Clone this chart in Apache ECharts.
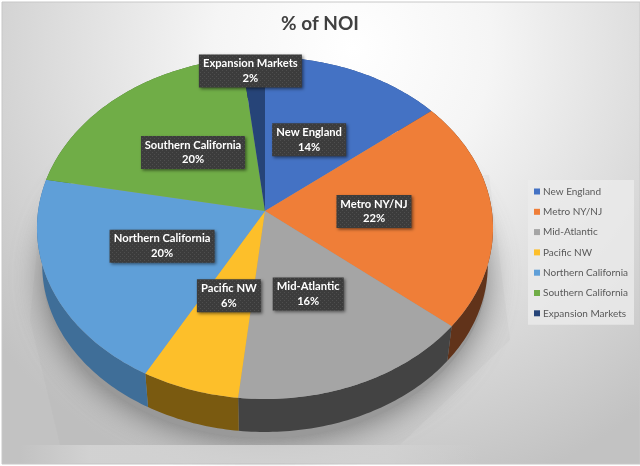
<!DOCTYPE html>
<html><head><meta charset="utf-8">
<style>html,body{margin:0;padding:0;background:#fff}#c{width:640px;height:466px}</style>
<script src="https://cdn.jsdelivr.net/npm/echarts@6/dist/echarts.min.js"></script>
</head><body><div id="c"></div>
<script>
const categories = ['New England','Metro NY/NJ','Mid-Atlantic','Pacific NW','Northern California','Southern California','Expansion Markets'];
const noiShare = [14.2,21.8,15.7,6.3,20,20.2,1.8];
const topColors = ['#4472C4','#EF7E38','#A5A5A5','#FDBF2A','#5F9FD8','#70AD47','#264478'];
const wallColors = ['#2c4a80','#61331A','#434343','#7A5A10','#3F6E98','#46702d','#18294a'];

const total = noiShare.reduce((a,b)=>a+b,0);
const FONT = 'Lato, "Open Sans", sans-serif';
// projected disc: a circle seen in perspective, back edge further away
const P = {cx:265, cy:211, A:169.3, B:226.9, k:0.0994, wallScale:0.977, wallCy:248.3};
const LABEL_NUDGE = [[1,-4],[0,0],[-2,0],[0,-1],[0,-1],[-3,-3],[-4,0]];
function project(theta, f, bottom){
  const w = 1 + P.k*Math.cos(theta);
  const x = f*P.B*Math.sin(theta)/w, y = f*P.A*Math.cos(theta)/w;
  return bottom ? [P.cx + x*P.wallScale, P.wallCy - y*P.wallScale] : [P.cx + x, P.cy - y];
}
function arc(t0,t1,bottom){
  const n = Math.max(2, Math.ceil((t1-t0)/(Math.PI/180))), pts=[];
  for(let i=0;i<=n;i++) pts.push(project(t0+(t1-t0)*i/n,1,bottom));
  return pts;
}
// dotted label texture
const tile = document.createElement('canvas'); tile.width=4; tile.height=4;
const tc = tile.getContext('2d');
tc.fillStyle='#3c3c3c'; tc.fillRect(0,0,4,4);
tc.fillStyle='#4e4e4e'; tc.fillRect(0,0,1,1); tc.fillRect(2,2,1,1);
const mc = document.createElement('canvas').getContext('2d');
const labelFont = 'bold 11.2px '+FONT;

function renderSlice(idx){
  return function(params, api){
    const before = noiShare.slice(0,idx).reduce((a,b)=>a+b,0);
    const v = api.value(0);
    const t0 = before/total*2*Math.PI, t1 = (before+v)/total*2*Math.PI;
    const top = arc(t0,t1,false), bot = arc(t0,t1,true).reverse();
    const mid = (t0+t1)/2;
    const c0 = project(mid, v/total<0.03 ? 0.91 : 0.48, false);
    const c = [c0[0]+LABEL_NUDGE[idx][0], c0[1]+LABEL_NUDGE[idx][1]];
    const l1 = categories[idx], l2 = Math.round(v/total*100)+'%';
    mc.font = labelFont;
    const bw = Math.round(mc.measureText(l1).width)+8, bh = 33;
    return {type:'group', children:[
      {type:'polygon', z2:1, shape:{points:top.concat(bot)}, style:{fill:wallColors[idx]}},
      {type:'polygon', z2:5, shape:{points:[[P.cx,P.cy]].concat(top)}, style:{fill:topColors[idx]}},
      {type:'rect', z2:10, shape:{x:c[0]-bw/2,y:c[1]-bh/2,width:bw,height:bh},
        style:{fill:{image:tile,repeat:'repeat'},shadowBlur:3,shadowOffsetX:1.5,shadowOffsetY:1.5,shadowColor:'rgba(0,0,0,.5)'}},
      {type:'text', z2:11, x:c[0], y:c[1], style:{text:l1+'\n'+l2,fill:'#fff',font:labelFont,lineHeight:14.5,align:'center',verticalAlign:'middle'}}
    ]};
  };
}
const series = categories.map((name,i)=>({
  type:'custom', name, coordinateSystem:'none', z:5, silent:true, animation:false,
  itemStyle:{color:topColors[i]}, data:[[noiShare[i]]], renderItem:renderSlice(i)
}));
const chart = echarts.init(document.getElementById('c'),null,{renderer:'canvas'});
chart.setOption({
  animation:false,
  title:{text:'% of NOI',left:320,top:14,textAlign:'center',padding:0,
    textStyle:{fontFamily:FONT,fontSize:19,fontWeight:'bold',color:'#404040'}},
  legend:{data:categories,orient:'vertical',left:528,top:180,padding:[5,6,5,6],itemGap:7.3,
    itemWidth:6,itemHeight:6,icon:'rect',backgroundColor:'rgba(235,235,235,.8)',selectedMode:false,
    textStyle:{fontFamily:FONT,fontSize:10,color:'#595959',padding:[0,0,0,-2],lineHeight:13,height:13}},
  graphic:[
    {type:'rect',z:0,shape:{x:2,y:2,width:638,height:462},
      style:{stroke:'#c8c8c8',lineWidth:1,fill:{type:'radial',x:0.55,y:0.1,r:1.0,global:false,
        colorStops:[{offset:0,color:'#ffffff'},{offset:.3,color:'#f5f5f5'},{offset:.62,color:'#dedede'},{offset:1,color:'#c2c2c2'}]}}},
    {type:'polygon',z:1,shape:{points:[[44,178],[30,320],[60,445],[400,445],[510,340],[489,175]]},
      style:{fill:'rgba(150,150,150,.08)'}},
    {type:'ellipse',z:2,shape:{cx:265,cy:272,rx:222,ry:166},
      style:{fill:'#999',shadowBlur:32,shadowColor:'rgba(90,90,90,.75)',shadowOffsetY:4}},
    {type:'rect',z:3,shape:{x:20,y:445,width:460,height:18.5},
      style:{fill:{type:'linear',x:0,y:0,x2:1,y2:0,colorStops:[{offset:0,color:'rgba(212,212,212,0)'},{offset:.15,color:'rgba(212,212,212,.85)'},{offset:.8,color:'rgba(210,210,210,.85)'},{offset:1,color:'rgba(208,208,208,0)'}]}}}
  ],
  series
});
</script></body></html>
